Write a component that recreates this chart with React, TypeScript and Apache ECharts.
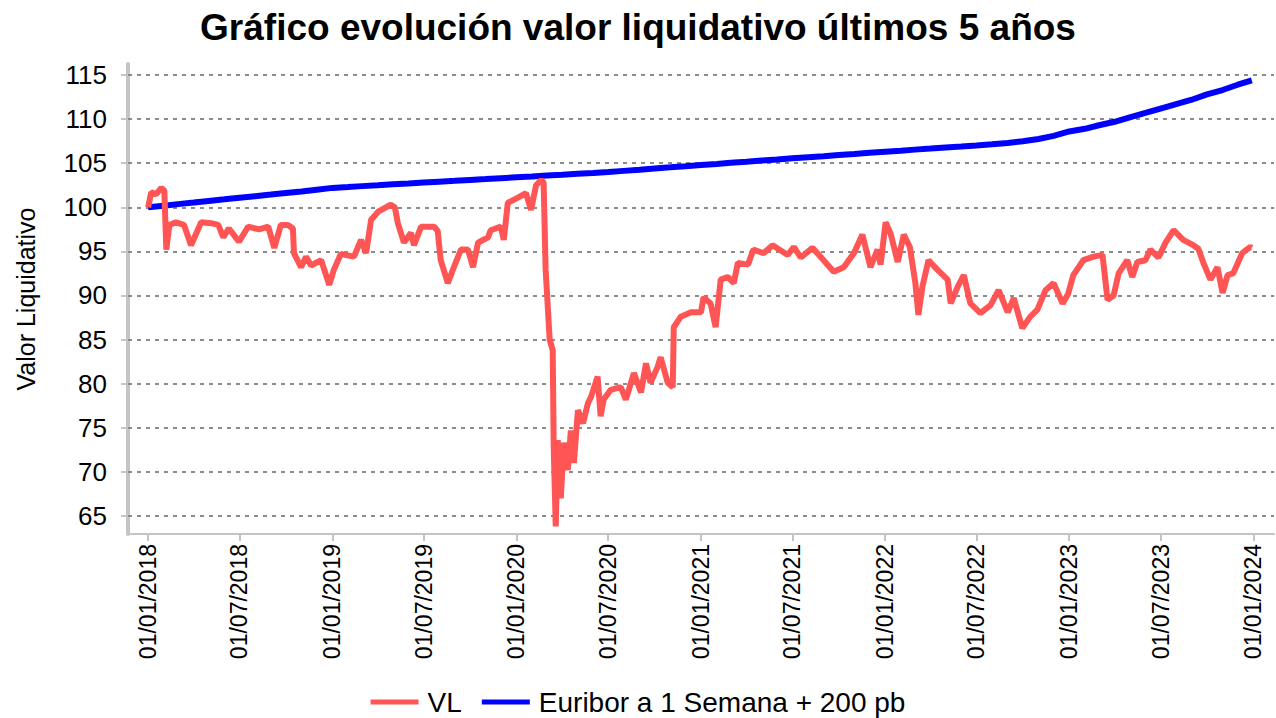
import React, { useEffect, useRef } from "react";
import * as echarts from "echarts";

const title = "Gráfico evolución valor liquidativo últimos 5 años";
const yAxisName = "Valor Liquidativo";
const seriesNames = ["VL", "Euribor a 1 Semana + 200 pb"];

const yTicks = [65, 70, 75, 80, 85, 90, 95, 100, 105, 110, 115];
const xTickDates = [
  "2018-01-01", "2018-07-01", "2019-01-01", "2019-07-01", "2020-01-01", "2020-07-01",
  "2021-01-01", "2021-07-01", "2022-01-01", "2022-07-01", "2023-01-01", "2023-07-01", "2024-01-01",
];

const vlDates = [
  "2018-01-01","2018-01-07","2018-01-17","2018-01-27","2018-02-02","2018-02-06","2018-02-12","2018-02-25",
  "2018-03-13","2018-03-27","2018-04-16","2018-05-06","2018-05-20","2018-05-30","2018-06-10","2018-06-30",
  "2018-07-18","2018-08-09","2018-08-27","2018-09-08","2018-09-21","2018-10-05","2018-10-15","2018-10-17",
  "2018-10-31","2018-11-10","2018-11-20","2018-12-10","2018-12-26","2019-01-04","2019-01-18","2019-02-13",
  "2019-02-27","2019-03-09","2019-03-19","2019-04-02","2019-04-27","2019-05-05","2019-05-11","2019-05-23",
  "2019-06-06","2019-06-12","2019-06-26","2019-07-22","2019-07-29","2019-08-04","2019-08-18","2019-08-30",
  "2019-09-13","2019-09-27","2019-10-07","2019-10-17","2019-11-06","2019-11-11","2019-12-01","2019-12-07",
  "2019-12-15","2020-01-04","2020-01-20","2020-01-30","2020-02-09","2020-02-19","2020-02-24","2020-02-28",
  "2020-03-07","2020-03-13","2020-03-15","2020-03-19","2020-03-23","2020-03-29","2020-04-04","2020-04-12",
  "2020-04-18","2020-04-24","2020-05-02","2020-05-12","2020-05-22","2020-05-28","2020-06-10","2020-06-16",
  "2020-06-22","2020-07-06","2020-07-26","2020-08-05","2020-08-21","2020-09-04","2020-09-14","2020-09-23",
  "2020-10-07","2020-10-13","2020-10-27","2020-11-06","2020-11-08","2020-11-22","2020-12-12","2021-01-01",
  "2021-01-06","2021-01-20","2021-01-30","2021-02-09","2021-02-23","2021-03-07","2021-03-15","2021-04-04",
  "2021-04-15","2021-05-05","2021-05-23","2021-06-22","2021-07-04","2021-07-18","2021-08-10","2021-08-26",
  "2021-09-21","2021-10-11","2021-10-31","2021-11-17","2021-12-03","2021-12-17","2021-12-23","2022-01-02",
  "2022-01-12","2022-01-26","2022-02-07","2022-02-19","2022-03-02","2022-03-08","2022-03-16","2022-03-28",
  "2022-04-15","2022-05-05","2022-05-11","2022-05-25","2022-06-06","2022-06-19","2022-07-09","2022-07-29",
  "2022-08-14","2022-09-01","2022-09-13","2022-09-30","2022-10-16","2022-10-30","2022-11-15","2022-12-01",
  "2022-12-19","2022-12-30","2023-01-09","2023-01-29","2023-02-18","2023-03-08","2023-03-18","2023-03-30",
  "2023-04-09","2023-04-26","2023-05-06","2023-05-16","2023-06-01","2023-06-11","2023-06-27","2023-07-11",
  "2023-07-27","2023-08-15","2023-09-04","2023-09-14","2023-09-24","2023-10-08","2023-10-22","2023-11-01",
  "2023-11-11","2023-11-22","2023-12-10","2023-12-26","2023-12-29",
];
const vlValues = [
  100.0,101.7,101.5,102.2,101.9,95.2,98.0,98.3,
  98.0,95.7,98.3,98.2,98.0,96.6,97.6,96.1,
  97.8,97.5,97.8,95.4,98.0,98.0,97.6,94.8,
  93.2,94.4,93.4,94.0,91.2,92.9,94.7,94.4,
  96.3,94.8,98.6,99.5,100.3,100.0,98.2,96.0,
  97.1,95.7,97.8,97.8,97.3,94.0,91.4,93.2,
  95.2,95.2,93.2,96.0,96.6,97.4,97.8,96.3,
  100.5,101.1,101.6,99.7,102.5,103.1,102.8,92.9,
  85.0,83.8,72.8,63.8,73.6,67.0,73.3,70.2,
  74.7,71.0,77.0,75.5,77.8,78.5,80.8,76.3,
  78.2,79.3,79.6,78.2,81.2,79.0,82.3,80.1,
  81.9,83.0,80.1,79.6,86.4,87.6,88.1,88.1,
  89.8,89.1,86.4,91.8,92.1,91.4,93.7,93.5,
  95.2,94.8,95.7,94.6,95.5,94.3,95.4,94.4,
  92.7,93.2,94.8,96.9,93.2,95.2,93.5,98.3,
  97.0,93.8,96.9,95.5,91.4,87.8,91.0,94.0,
  92.9,91.8,89.1,91.0,92.3,89.1,88.0,88.9,
  90.6,88.1,89.7,86.3,87.6,88.4,90.6,91.4,
  89.1,90.2,92.3,94.0,94.4,94.6,89.5,90.0,
  92.5,94.0,92.1,93.8,94.0,95.2,94.3,96.0,
  97.4,96.3,95.7,95.3,93.7,91.8,93.2,90.3,
  92.3,92.5,94.8,95.5,95.4,
];

const benchDates = [
  "2018-01-01","2018-02-01","2018-03-01","2018-04-01","2018-05-01","2018-06-01","2018-07-01","2018-08-01","2018-09-01","2018-10-01","2018-11-01","2018-12-01",
  "2019-01-01","2019-02-01","2019-03-01","2019-04-01","2019-05-01","2019-06-01","2019-07-01","2019-08-01","2019-09-01","2019-10-01","2019-11-01","2019-12-01",
  "2020-01-01","2020-02-01","2020-03-01","2020-04-01","2020-05-01","2020-06-01","2020-07-01","2020-08-01","2020-09-01","2020-10-01","2020-11-01","2020-12-01",
  "2021-01-01","2021-02-01","2021-03-01","2021-04-01","2021-05-01","2021-06-01","2021-07-01","2021-08-01","2021-09-01","2021-10-01","2021-11-01","2021-12-01",
  "2022-01-01","2022-02-01","2022-03-01","2022-04-01","2022-05-01","2022-06-01","2022-07-01","2022-08-01","2022-09-01","2022-10-01","2022-11-01","2022-12-01",
  "2023-01-01","2023-02-01","2023-03-01","2023-04-01","2023-05-01","2023-06-01","2023-07-01","2023-08-01","2023-09-01","2023-10-01","2023-11-01","2023-12-01",
  "2023-12-29",
];
const benchValues = [
  100.0,100.18,100.36,100.54,100.72,100.9,101.08,101.26,101.44,101.62,101.8,102.0,
  102.2,102.3,102.4,102.5,102.6,102.7,102.8,102.9,103.0,103.1,103.2,103.3,
  103.4,103.5,103.6,103.7,103.8,103.9,104.0,104.13,104.26,104.4,104.53,104.66,
  104.8,104.92,105.05,105.17,105.3,105.42,105.55,105.68,105.8,105.93,106.05,106.18,
  106.3,106.42,106.54,106.66,106.78,106.9,107.02,107.15,107.3,107.5,107.75,108.1,
  108.6,108.9,109.3,109.7,110.2,110.7,111.2,111.7,112.2,112.8,113.3,113.9,
  114.4,
];

const toTime = (s: string) => {
  const [y, m, d] = s.split("-").map(Number);
  return Date.UTC(y, m - 1, d);
};
const pad = (n: number) => (n < 10 ? "0" + n : "" + n);
const fmtDate = (v: number) => {
  const d = new Date(v);
  return pad(d.getUTCDate()) + "/" + pad(d.getUTCMonth() + 1) + "/" + d.getUTCFullYear();
};

export default function App() {
  const ref = useRef<HTMLDivElement>(null);
  useEffect(() => {
    if (!ref.current) return;
    document.body.style.margin = "0";
    const chart = echarts.init(ref.current, null, { renderer: "svg" });
    const font = "'Liberation Sans', Arial, sans-serif";
    const xTicks = xTickDates.map(toTime);
    chart.setOption({
      animation: false,
      backgroundColor: "#ffffff",
      title: {
        text: title,
        left: "center",
        top: 4,
        textStyle: { fontFamily: font, fontSize: 37, fontWeight: "bold", color: "#000" },
      },
      legend: {
        top: 686,
        left: "center",
        icon: "rect",
        itemWidth: 48,
        itemHeight: 5,
        itemGap: 20,
        padding: 0,
        data: seriesNames,
        textStyle: { fontFamily: font, fontSize: 28, lineHeight: 32, color: "#000", padding: [0, 0, 0, 4] },
      },
      grid: { left: 128, right: 2, top: 64, bottom: 184 },
      xAxis: {
        type: "value",
        min: toTime("2017-11-22"),
        max: toTime("2024-02-11"),
        axisLine: { show: true, lineStyle: { color: "#c4c4c4", width: 2 } },
        axisTick: { show: true, length: 7, customValues: xTicks, lineStyle: { color: "#c4c4c4", width: 2 } },
        axisLabel: {
          customValues: xTicks,
          rotate: 90,
          margin: 10,
          fontFamily: font,
          fontSize: 23,
          color: "#000",
          formatter: (v: number) => fmtDate(v),
        },
        splitLine: { show: false },
        minorTick: { show: false },
      },
      yAxis: {
        type: "value",
        min: 62.95,
        max: 116.25,
        name: yAxisName,
        nameLocation: "middle",
        nameRotate: 90,
        nameGap: 90,
        nameTextStyle: { fontFamily: font, fontSize: 25, color: "#000" },
        axisLine: { show: true, lineStyle: { color: "#c4c4c4", width: 4 } },
        axisTick: { show: true, length: 7, customValues: yTicks, lineStyle: { color: "#c4c4c4", width: 2 } },
        axisLabel: { customValues: yTicks, margin: 21, fontFamily: font, fontSize: 26, color: "#000" },
        splitLine: { show: false },
      },
      series: [
        {
          name: seriesNames[0],
          type: "line",
          symbol: "none",
          showSymbol: false,
          z: 4,
          data: vlDates.map((d, i) => [toTime(d), vlValues[i]]),
          lineStyle: { color: "#ff5555", width: 6 },
          itemStyle: { color: "#ff5555" },
        },
        {
          name: seriesNames[1],
          type: "line",
          symbol: "none",
          showSymbol: false,
          z: 3,
          data: benchDates.map((d, i) => [toTime(d), benchValues[i]]),
          lineStyle: { color: "#0000ff", width: 6 },
          itemStyle: { color: "#0000ff" },
          markLine: {
            silent: true,
            symbol: "none",
            label: { show: false },
            z: 1,
            lineStyle: { color: "#8c8c8c", width: 2, type: [4, 5] },
            data: yTicks.map((v) => ({ yAxis: v })),
          },
        },
      ],
    });
    return () => chart.dispose();
  }, []);
  return <div ref={ref} style={{ width: 1276, height: 718 }} />;
}
